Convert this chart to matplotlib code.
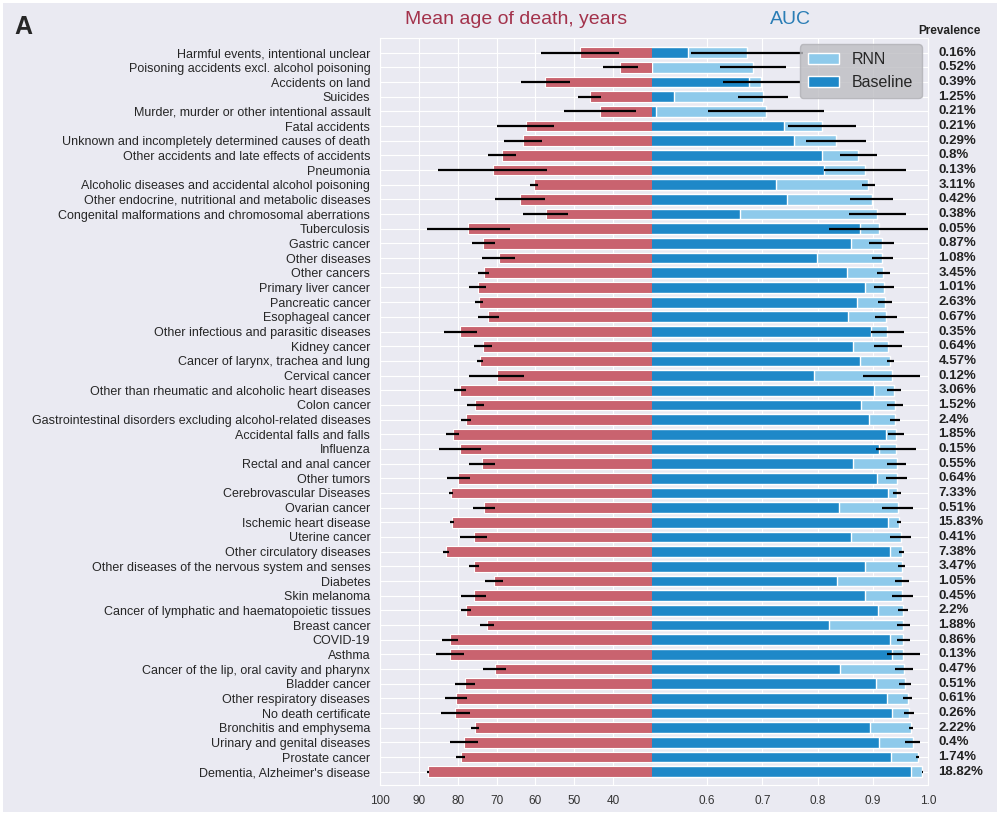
import matplotlib
matplotlib.use('Agg')
import matplotlib.pyplot as plt
import matplotlib.transforms as mtransforms
from matplotlib.patches import Patch, Rectangle
import seaborn as sns
import numpy as np

causes = ['Harmful events, intentional unclear', 'Poisoning accidents excl. alcohol poisoning',
          'Accidents on land', 'Suicides', 'Murder, murder or other intentional assault',
          'Fatal accidents', 'Unknown and incompletely determined causes of death',
          'Other accidents and late effects of accidents', 'Pneumonia',
          'Alcoholic diseases and accidental alcohol poisoning',
          'Other endocrine, nutritional and metabolic diseases',
          'Congenital malformations and chromosomal aberrations', 'Tuberculosis', 'Gastric cancer',
          'Other diseases', 'Other cancers', 'Primary liver cancer', 'Pancreatic cancer',
          'Esophageal cancer', 'Other infectious and parasitic diseases', 'Kidney cancer',
          'Cancer of larynx, trachea and lung', 'Cervical cancer',
          'Other than rheumatic and alcoholic heart diseases', 'Colon cancer',
          'Gastrointestinal disorders excluding alcohol-related diseases',
          'Accidental falls and falls', 'Influenza', 'Rectal and anal cancer', 'Other tumors',
          'Cerebrovascular Diseases', 'Ovarian cancer', 'Ischemic heart disease', 'Uterine cancer',
          'Other circulatory diseases', 'Other diseases of the nervous system and senses',
          'Diabetes', 'Skin melanoma', 'Cancer of lymphatic and haematopoietic tissues',
          'Breast cancer', 'COVID-19', 'Asthma', 'Cancer of the lip, oral cavity and pharynx',
          'Bladder cancer', 'Other respiratory diseases', 'No death certificate',
          'Bronchitis and emphysema', 'Urinary and genital diseases', 'Prostate cancer',
          "Dementia, Alzheimer's disease"]

age = [48.5, 38.2, 57.5, 46.0, 43.4, 62.5, 63.3, 68.6, 71.0, 60.4, 64.0, 57.4, 77.3, 73.4, 69.5,
       73.3, 74.9, 74.5, 72.2, 79.3, 73.6, 74.2, 70.0, 79.4, 75.5, 77.9, 81.3, 79.3, 73.8, 79.8,
       81.7, 73.2, 81.4, 75.9, 83.0, 75.8, 70.7, 75.9, 77.9, 72.4, 82.0, 82.0, 70.5, 78.1, 80.4,
       80.6, 75.6, 78.4, 79.2, 87.7]
age_err = [10.0, 4.5, 6.3, 3.0, 9.3, 7.3, 4.9, 3.7, 14.1, 1.1, 6.4, 5.9, 10.7, 2.9, 4.3, 1.4, 2.1,
           1.0, 2.7, 4.2, 2.3, 0.8, 7.1, 1.6, 2.2, 1.3, 1.7, 5.4, 3.3, 2.9, 0.6, 2.9, 0.5, 3.4,
           0.8, 1.3, 2.3, 3.3, 1.2, 1.8, 2.1, 3.7, 2.9, 2.6, 2.9, 3.8, 1.1, 3.6, 1.2, 0.3]

baseline = [0.565, 0.5, 0.676, 0.540, 0.507, 0.740, 0.758, 0.808, 0.812, 0.725, 0.744, 0.659, 0.877,
            0.861, 0.799, 0.853, 0.886, 0.872, 0.855, 0.897, 0.865, 0.876, 0.794, 0.902, 0.878,
            0.894, 0.924, 0.912, 0.865, 0.908, 0.927, 0.839, 0.928, 0.861, 0.931, 0.886, 0.835,
            0.886, 0.909, 0.820, 0.931, 0.935, 0.841, 0.906, 0.926, 0.935, 0.895, 0.911, 0.933, 0.970]
rnn = [0.672, 0.683, 0.698, 0.701, 0.706, 0.808, 0.833, 0.874, 0.886, 0.892, 0.898, 0.908, 0.911,
       0.916, 0.917, 0.919, 0.921, 0.922, 0.924, 0.926, 0.927, 0.932, 0.934, 0.938, 0.940, 0.941,
       0.942, 0.942, 0.943, 0.943, 0.944, 0.945, 0.947, 0.951, 0.952, 0.952, 0.953, 0.953, 0.954,
       0.955, 0.955, 0.955, 0.957, 0.958, 0.963, 0.966, 0.969, 0.972, 0.981, 0.990]
rnn_err = [0.101, 0.06, 0.07, 0.046, 0.105, 0.062, 0.054, 0.033, 0.075, 0.012, 0.039, 0.052, 0.09,
           0.023, 0.019, 0.012, 0.018, 0.013, 0.02, 0.03, 0.025, 0.007, 0.051, 0.013, 0.015, 0.009,
           0.015, 0.036, 0.018, 0.019, 0.007, 0.028, 0.004, 0.019, 0.005, 0.007, 0.013, 0.019,
           0.009, 0.012, 0.012, 0.03, 0.016, 0.011, 0.008, 0.009, 0.004, 0.013, 0.003, 0.001]

prevalence = ['0.16%', '0.52%', '0.39%', '1.25%', '0.21%', '0.21%', '0.29%', '0.8%', '0.13%',
              '3.11%', '0.42%', '0.38%', '0.05%', '0.87%', '1.08%', '3.45%', '1.01%', '2.63%',
              '0.67%', '0.35%', '0.64%', '4.57%', '0.12%', '3.06%', '1.52%', '2.4%', '1.85%',
              '0.15%', '0.55%', '0.64%', '7.33%', '0.51%', '15.83%', '0.41%', '7.38%', '3.47%',
              '1.05%', '0.45%', '2.2%', '1.88%', '0.86%', '0.13%', '0.47%', '0.51%', '0.61%',
              '0.26%', '2.22%', '0.4%', '1.74%', '18.82%']

sns.set_style('darkgrid')
plt.rcParams['font.family'] = ['Liberation Sans', 'DejaVu Sans']

red = '#c9636f'
dark_blue = '#1e88c8'
light_blue = '#8ecaeb'
bg = '#eaeaf2'

fig = plt.figure(figsize=(10, 8.15), dpi=100)
fig.patch.set_facecolor('white')
fig.patches.append(Rectangle((0.003, 0.004), 0.994, 0.992, transform=fig.transFigure,
                             facecolor=bg, edgecolor='none', zorder=-10))

y = np.arange(len(causes))
ax1 = fig.add_axes([0.38, 0.0368, 0.272, 0.9166])
ax2 = fig.add_axes([0.652, 0.0368, 0.276, 0.9166])

ax1.barh(y, age, height=0.73, color=red, edgecolor='white', linewidth=0.8)
ax1.errorbar(age, y, xerr=age_err, fmt='none', ecolor='black', elinewidth=1.6, capsize=0, zorder=3)
ax1.set_xlim(100, 30)
ax1.set_xticks([100, 90, 80, 70, 60, 50, 40])
ax1.set_yticks(y)
ax1.set_yticklabels(causes, fontsize=9.0)
ax1.set_ylim(49.9, -1.0)
ax1.tick_params(axis='y', length=4, width=1.5, color='black', pad=3)
ax1.tick_params(axis='x', labelsize=8.5, labelcolor='#333333', pad=4)
ax1.spines['right'].set_visible(False)
ax1.set_title('Mean age of death, years', color='#a3324b', fontsize=14, pad=10)

ax2.barh(y, rnn, height=0.73, color=light_blue, edgecolor='white', linewidth=1, label='RNN')
ax2.barh(y, baseline, height=0.73, color=dark_blue, edgecolor='white', linewidth=1, label='Baseline')
ax2.errorbar(rnn, y, xerr=rnn_err, fmt='none', ecolor='black', elinewidth=1.6, capsize=0, zorder=3)
ax2.set_xlim(0.5, 1.0)
ax2.set_xticks([0.6, 0.7, 0.8, 0.9, 1.0])
ax2.set_xticklabels(['0.6', '0.7', '0.8', '0.9', '1.0'])
ax2.set_yticks(y)
ax2.set_yticklabels([])
ax2.set_ylim(49.9, -1.0)
ax2.tick_params(axis='y', length=0)
ax2.tick_params(axis='x', labelsize=8.5, labelcolor='#333333', pad=4)
ax2.spines['left'].set_visible(False)
ax2.set_title('AUC', color='#2a7db5', fontsize=14, pad=10)

handles = [Patch(facecolor=light_blue, edgecolor='white', label='RNN'),
           Patch(facecolor=dark_blue, edgecolor='white', label='Baseline')]
leg = ax2.legend(handles=handles, loc='upper right', fontsize=11.5, frameon=True,
                 facecolor='#bdbdc2', edgecolor='#b0b0b5', framealpha=0.8, borderaxespad=0.4,
                 borderpad=0.5)
leg.set_zorder(5)

trans = mtransforms.blended_transform_factory(ax2.transAxes, ax2.transData)
for i, p in enumerate(prevalence):
    ax2.text(1.038, i, p, transform=trans, fontsize=9.5, fontweight='bold', va='center', ha='left',
             color='#222222')
ax2.text(1.076, -1.5, 'Prevalence', transform=trans, fontsize=8.5, fontweight='bold',
         va='center', ha='center', color='#222222', clip_on=False)

fig.text(0.014, 0.967, 'A', fontsize=18, fontweight='bold', va='center', ha='left')

plt.savefig('out.png', dpi=100, facecolor=fig.get_facecolor())
